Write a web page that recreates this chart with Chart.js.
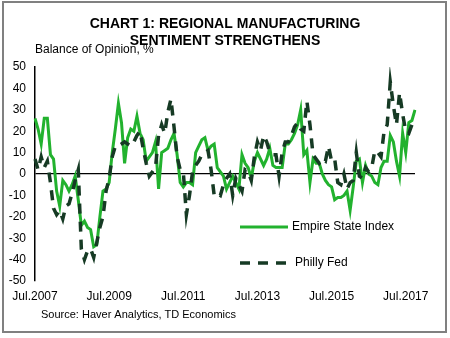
<!DOCTYPE html>
<html><head><meta charset="utf-8">
<script src="https://cdn.jsdelivr.net/npm/chart.js@4/dist/chart.umd.min.js"></script>
<style>html,body{margin:0;padding:0;background:#fff}#wrap{width:450px;height:338px;position:relative}</style>
</head><body><div id="wrap"><canvas id="c" width="450" height="338"></canvas></div>
<script>
// Categories: monthly, Jul 2007 .. Oct 2017
const startYear = 2007;
const startMonthIndex = 6; // July
const monthCount = 124;
const monthNames = ['Jan','Feb','Mar','Apr','May','Jun','Jul','Aug','Sep','Oct','Nov','Dec'];
const categories = [];
for (let i = 0; i < monthCount; i++) {
  const mi = startMonthIndex + i;
  categories.push(monthNames[mi % 12] + '.' + (startYear + Math.floor(mi / 12)));
}
const tickLabels = ['Jul.2007','Jul.2009','Jul.2011','Jul.2013','Jul.2015','Jul.2017'];
const tickEvery = 24;
const yTickValues = [50,40,30,20,10,0,-10,-20,-30,-40,-50];

const empireState = [
  26, 21, 14, 26, 26, 9,
  7, -8, -15, -3, -5, -8,
  -5, -1, -12, -24, -22, -25,
  -26, -34, -33, -20, -8, -7,
  -4, 10, 21, 33, 24, 5,
  17, 21, 20, 27, 19, 16,
  6, 8, 10, 15, -7, 10,
  11, 12, 16, 19, 9, -4,
  -6, -4, -4, -5, 10, 13,
  16, 17, 11, 13, 14, 3,
  1, -1, -7, -4, -1, -4,
  -7, 9, 5, 3, -2, 6,
  10, 7, 4, 7, 12, 4,
  3, 3, 3, 14, 14, 16,
  19, 23, 30, 9, 11, -4,
  7, 5, 5, 0, -3, -5,
  -6, -12, -11, -11, -10, -8,
  -17, -6, 6, 7, -4, 4,
  0, -1, -4, -5, 3, 6,
  6, 18, 15, 6, -1, 19,
  10, 24, 25, 30
];
const phillyFed = [
  7, 2, 8, 3, 6, -4,
  -16, -19, -17, -21, -15, -14,
  -9, -3, 2, -35, -40, -36,
  -35, -39, -32, -25, -20, -8,
  -2, 8, 13, 13, 14, 15,
  14, 13, 15, 18, 20, 12,
  5, -1, 1, 3, 18, 23,
  19, 29, 35, 22, 8, 2,
  1, -19, -10, 1, 4, 6,
  9, 10, 11, 2, -10, -9,
  -10, -5, -2, 0, -10, -2,
  -5, -8, 2, 1, -3, 8,
  15, 11, 18, 15, 10, 9,
  9, -1, 10, 15, 15, 18,
  22, 24, 21, 20, 34, 23,
  9, 7, 5, 7, 6, 13,
  6, 7, -4, -5, 0, -7,
  -4, -3, 10, -1, -2, 3,
  1, 3, 11, 10, 8, 20,
  23, 43, 32, 23, 38, 28,
  20, 19, 23, null
];

const titleLines = ['CHART 1: REGIONAL MANUFACTURING', 'SENTIMENT STRENGTHENS'];
const yAxisTitle = 'Balance of Opinion, %';
const sourceText = 'Source: Haver Analytics, TD Economics';
const seriesNames = ['Empire State Index', 'Philly Fed'];

const FONT = '"Liberation Sans", Arial, sans-serif';

const decor = {
  id: 'decor',
  beforeDraw(chart) {
    const ctx = chart.ctx;
    ctx.save();
    ctx.fillStyle = '#fff';
    ctx.fillRect(0, 0, chart.width, chart.height);
    ctx.strokeStyle = '#808080';
    ctx.lineWidth = 2;
    ctx.strokeRect(3, 2, 443, 330);
    ctx.restore();
  },
  afterDraw(chart) {
    const ctx = chart.ctx;
    const area = chart.chartArea;
    ctx.save();
    ctx.fillStyle = '#000';
    ctx.textBaseline = 'middle';
    ctx.font = 'bold 14px ' + FONT;
    ctx.textAlign = 'center';
    ctx.fillText(titleLines[0], 225, 24);
    ctx.fillText(titleLines[1], 225, 41);
    ctx.font = '12px ' + FONT;
    ctx.textAlign = 'left';
    ctx.fillText(yAxisTitle, area.left, 50);
    ctx.font = '11px ' + FONT;
    ctx.fillText(sourceText, 41, 315);
    // legend inside plot
    const items = [
      {ds: chart.data.datasets[1], y: 227, tx: 292},
      {ds: chart.data.datasets[0], y: 263, tx: 295}
    ];
    items.forEach(it => {
      ctx.save();
      ctx.strokeStyle = it.ds.borderColor;
      ctx.lineWidth = it.ds.borderWidth;
      ctx.setLineDash(it.ds.borderDash || []);
      ctx.beginPath();
      ctx.moveTo(240, it.y);
      ctx.lineTo(288, it.y);
      ctx.stroke();
      ctx.restore();
      ctx.font = '12px ' + FONT;
      ctx.fillStyle = '#000';
      ctx.textAlign = 'left';
      ctx.fillText(it.ds.label, it.tx, it.y);
    });
    ctx.restore();
  }
};

new Chart(document.getElementById('c'), {
  type: 'line',
  data: {
    labels: categories,
    datasets: [
      {
        label: seriesNames[1],
        data: phillyFed,
        borderColor: '#163a24',
        borderWidth: 3.5,
        borderDash: [10, 8],
        borderCapStyle: 'butt',
        pointRadius: 0,
        tension: 0,
        fill: false,
        spanGaps: false,
        order: 0
      },
      {
        label: seriesNames[0],
        data: empireState,
        borderColor: '#22b22e',
        borderWidth: 3,
        pointRadius: 0,
        tension: 0,
        fill: false,
        order: 1
      }
    ]
  },
  options: {
    responsive: false,
    animation: false,
    devicePixelRatio: 1,
    layout: { padding: { top: 67, right: 35, bottom: 0, left: 0 } },
    plugins: { legend: { display: false }, title: { display: false }, tooltip: { enabled: false } },
    scales: {
      x: {
        type: 'category',
        offset: false,
        grid: { display: false, drawTicks: false },
        border: { display: false },
        ticks: {
          autoSkip: false,
          maxRotation: 0,
          minRotation: 0,
          padding: 8,
          color: '#000',
          font: { family: FONT, size: 12 },
          callback: (v, i) => (i % tickEvery === 0 ? tickLabels[i / tickEvery] : '')
        },
        afterFit: (s) => { s.height = 57; }
      },
      y: {
        min: yTickValues[yTickValues.length - 1],
        max: yTickValues[0],
        afterBuildTicks: (s) => { s.ticks = yTickValues.map(v => ({ value: v })); },
        grid: {
          drawTicks: false,
          color: (c) => (c.tick && c.tick.value === 0 ? '#000' : 'rgba(0,0,0,0)'),
          lineWidth: 1.3
        },
        border: { display: true, color: '#000', width: 1.5 },
        ticks: { padding: 9, color: '#000', font: { family: FONT, size: 12 } },
        afterFit: (s) => { s.width = 35; }
      }
    }
  },
  plugins: [decor]
});
</script></body></html>
